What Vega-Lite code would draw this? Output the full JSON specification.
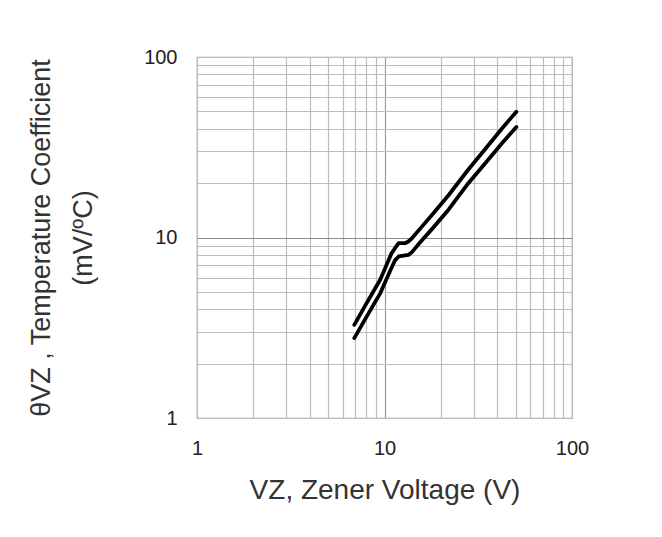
{
  "$schema": "https://vega.github.io/schema/vega-lite/v6.json",
  "width": 375,
  "height": 361,
  "autosize": {"type": "none"},
  "padding": {"left": 197, "top": 57, "right": 90, "bottom": 119},
  "background": "white",
  "config": {
    "font": "Liberation Sans",
    "view": {"stroke": "#9a9a9a", "strokeWidth": 1.2},
    "axisY": {
      "values": [1, 2, 3, 4, 5, 6, 7, 8, 9, 10, 20, 30, 40, 50, 60, 70, 80, 90, 100],
      "labelExpr": "indexof([1, 10, 100], datum.value) >= 0 ? format(datum.value, 'd') : ''",
      "labelOverlap": false,
      "labelFlush": false,
      "labelFontSize": 20,
      "labelColor": "#222222",
      "labelPadding": 20,
      "ticks": false,
      "domain": false,
      "grid": true,
      "gridColor": {"condition": {"test": "datum.value === 10", "value": "#8c8c8c"}, "value": "#bdbdbd"},
      "gridWidth": 1.2,
      "titleFontSize": 27,
      "titleFontWeight": "normal",
      "titleColor": "#333333",
      "titleLineHeight": 42,
      "titlePadding": 46
    }
  },
  "data": {
    "values": [
      {"v": 6.9, "hi": 3.28, "lo": 2.77},
      {"v": 8, "hi": 4.3, "lo": 3.62},
      {"v": 9.5, "hi": 5.85, "lo": 4.92},
      {"v": 10.9, "hi": 8.17, "lo": 6.8},
      {"v": 11.4, "hi": 8.75, "lo": 7.5},
      {"v": 11.9, "hi": 9.3, "lo": 7.85},
      {"v": 12.9, "hi": 9.3, "lo": 7.95},
      {"v": 13.4, "hi": 9.5, "lo": 8.0},
      {"v": 14, "hi": 9.9, "lo": 8.3},
      {"v": 15.5, "hi": 11.2, "lo": 9.4},
      {"v": 18, "hi": 13.4, "lo": 11.2},
      {"v": 22, "hi": 17.2, "lo": 14.3},
      {"v": 28, "hi": 23.8, "lo": 20},
      {"v": 35, "hi": 31.5, "lo": 26.3},
      {"v": 42, "hi": 39.8, "lo": 33},
      {"v": 50.5, "hi": 49.8, "lo": 41}
    ]
  },
  "encoding": {
    "x": {
      "field": "v",
      "type": "quantitative",
      "scale": {"type": "log", "domain": [1, 100]},
      "axis": {
        "values": [1, 2, 3, 4, 5, 6, 7, 8, 9, 10, 20, 30, 40, 50, 60, 70, 80, 90, 100],
        "labelExpr": "indexof([1, 10, 100], datum.value) >= 0 ? format(datum.value, 'd') : ''",
        "labelOverlap": false,
        "labelFlush": false,
        "labelFontSize": 20,
        "labelColor": "#222222",
        "labelPadding": 20,
        "ticks": false,
        "domain": false,
        "grid": true,
        "gridColor": {"condition": {"test": "datum.value === 10", "value": "#9a9a9a"}, "value": "#bdbdbd"},
        "gridWidth": 1.2,
        "title": "VZ, Zener Voltage (V)",
        "titleFontSize": 28,
        "titleFontWeight": "normal",
        "titleColor": "#333333",
        "titlePadding": 18
      }
    }
  },
  "layer": [
    {
      "mark": {"type": "area", "color": "white", "opacity": 1},
      "encoding": {
        "y": {
          "field": "hi",
          "type": "quantitative",
          "scale": {"type": "log", "domain": [1, 100]},
          "title": ["θVZ , Temperature Coefficient", "(mV/ºC)"]
        },
        "y2": {"field": "lo"}
      }
    },
    {
      "mark": {"type": "line", "color": "black", "strokeWidth": 3.8, "strokeCap": "round", "strokeJoin": "round"},
      "encoding": {
        "y": {"field": "hi", "type": "quantitative", "title": ["θVZ , Temperature Coefficient", "(mV/ºC)"]}
      }
    },
    {
      "mark": {"type": "line", "color": "black", "strokeWidth": 3.8, "strokeCap": "round", "strokeJoin": "round"},
      "encoding": {
        "y": {"field": "lo", "type": "quantitative", "title": ["θVZ , Temperature Coefficient", "(mV/ºC)"]}
      }
    }
  ]
}
